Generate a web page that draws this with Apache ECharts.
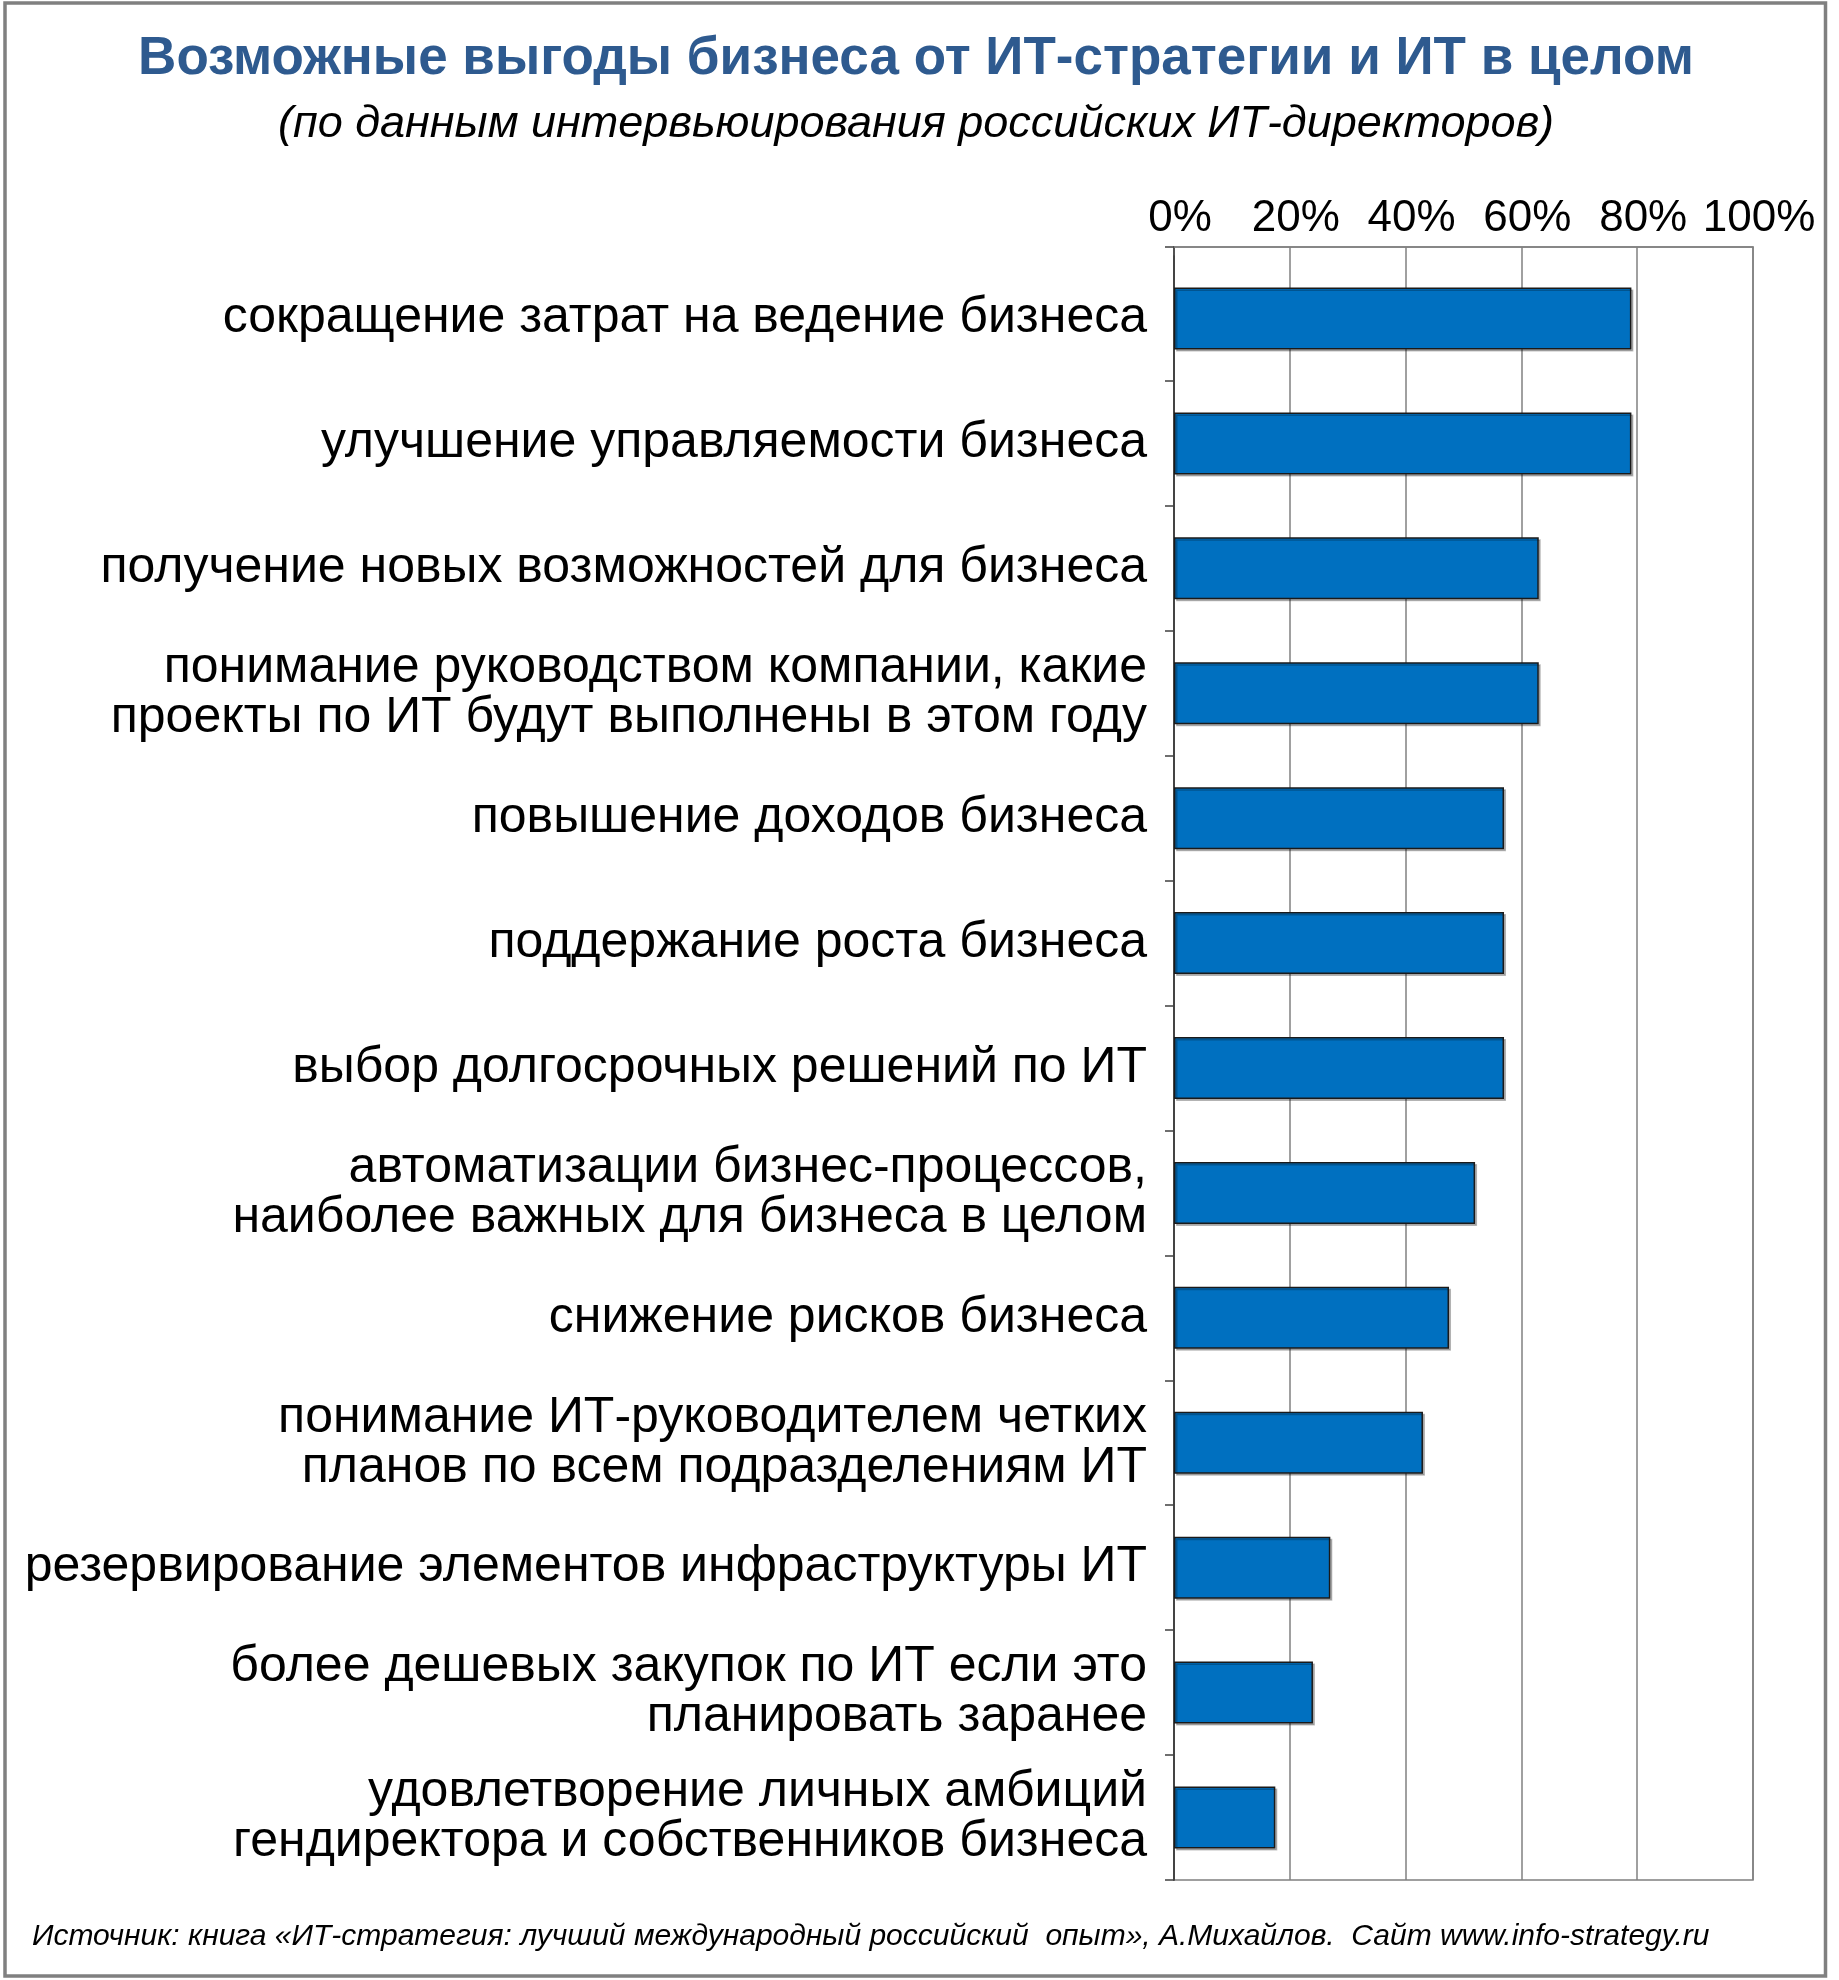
<!DOCTYPE html>
<html>
<head>
<meta charset="utf-8">
<script src="https://cdn.jsdelivr.net/npm/echarts@6/dist/echarts.min.js"></script>
<style>
html,body{margin:0;padding:0;background:#fff;}
#chart{width:1839px;height:1980px;}
</style>
</head>
<body>
<div id="chart"></div>
<script>
const titleText = 'Возможные выгоды бизнеса от ИТ-стратегии и ИТ в целом';
const subtitleText = '(по данным интервьюирования российских ИТ-директоров)';
const sourceText = 'Источник: книга «ИТ-стратегия: лучший международный российский  опыт», А.Михайлов.  Сайт www.info-strategy.ru';

const categories = [
  'сокращение затрат на ведение бизнеса',
  'улучшение управляемости бизнеса',
  'получение новых возможностей для бизнеса',
  'понимание руководством компании, какие\nпроекты по ИТ будут выполнены в этом году',
  'повышение доходов бизнеса',
  'поддержание роста бизнеса',
  'выбор долгосрочных решений по ИТ',
  'автоматизации бизнес-процессов,\nнаиболее важных для бизнеса в целом',
  'снижение рисков бизнеса',
  'понимание ИТ-руководителем четких\nпланов по всем подразделениям ИТ',
  'резервирование элементов инфраструктуры ИТ',
  'более дешевых закупок по ИТ если это\nпланировать заранее',
  'удовлетворение личных амбиций\nгендиректора и собственников бизнеса'
];
const values = [79, 79, 63, 63, 57, 57, 57, 52, 47.5, 43, 27, 24, 17.5];
const axisMin = 0, axisMax = 100, axisStep = 20;

const chart = echarts.init(document.getElementById('chart'), null, {renderer: 'canvas'});
const FONT = '"Liberation Sans", Arial, sans-serif';
const AXIS_DARK = '#404040';
const GRID_GRAY = '#808080';

chart.setOption({
  backgroundColor: '#ffffff',
  animation: false,
  textStyle: {fontFamily: FONT},
  grid: [
    {left: 1174, right: 86, top: 247, bottom: 100, show: true, borderColor: GRID_GRAY, borderWidth: 1.5, backgroundColor: 'transparent'},
    {left: 1174, right: 86, top: 256, bottom: 100}
  ],
  xAxis: [
    {
      gridIndex: 0, type: 'value', position: 'top',
      min: axisMin, max: axisMax, interval: axisStep,
      axisLine: {show: true, lineStyle: {color: GRID_GRAY, width: 1.5}},
      axisTick: {show: false},
      axisLabel: {formatter: '{value}%', fontSize: 44, color: '#000', margin: 6, padding: [0, 0, 0, 12], fontFamily: FONT},
      splitLine: {show: true, lineStyle: {color: GRID_GRAY, width: 1.5}}
    },
    {gridIndex: 1, type: 'value', min: axisMin, max: axisMax, show: false}
  ],
  yAxis: [
    {
      gridIndex: 0, type: 'category', data: [''],
      axisLine: {show: true, lineStyle: {color: AXIS_DARK, width: 1.5}},
      axisTick: {show: true, length: 9, lineStyle: {color: AXIS_DARK, width: 1.5}},
      axisLabel: {show: false}, splitLine: {show: false}
    },
    {
      gridIndex: 1, type: 'category', inverse: true, data: categories,
      axisLine: {show: true, lineStyle: {color: AXIS_DARK, width: 1.5}},
      axisTick: {show: true, length: 9, interval: function (idx) { return idx !== 0; }, lineStyle: {color: AXIS_DARK, width: 1.5}},
      axisLabel: {fontSize: 50, lineHeight: 50, color: '#000', margin: 27, align: 'right', fontFamily: FONT, padding: [0, 0, 12, 0]}
    }
  ],
  series: [{
    type: 'bar', xAxisIndex: 1, yAxisIndex: 1, data: values, barWidth: 62,
    itemStyle: {color: '#0070C0', borderColor: '#1a1a1a', borderWidth: 1.5,
      shadowColor: 'rgba(0,0,0,0.25)', shadowOffsetX: 2, shadowOffsetY: 2, shadowBlur: 0}
  }],
  graphic: [
    {type: 'rect', shape: {x: 5, y: 3, width: 1820.5, height: 1973},
     style: {fill: 'none', stroke: '#808080', lineWidth: 3.5}, silent: true},
    {type: 'text', x: 916, y: 59,
     style: {text: titleText, fill: '#2E5A8F', font: 'bold 53px ' + FONT, textAlign: 'center', textVerticalAlign: 'middle'}},
    {type: 'text', x: 916, y: 124,
     style: {text: subtitleText, fill: '#000', font: 'italic 45px ' + FONT, textAlign: 'center', textVerticalAlign: 'middle'}},
    {type: 'text', x: 32, y: 1937,
     style: {text: sourceText, fill: '#000', font: 'italic 30px ' + FONT, textAlign: 'left', textVerticalAlign: 'middle'}}
  ]
});
</script>
</body>
</html>
